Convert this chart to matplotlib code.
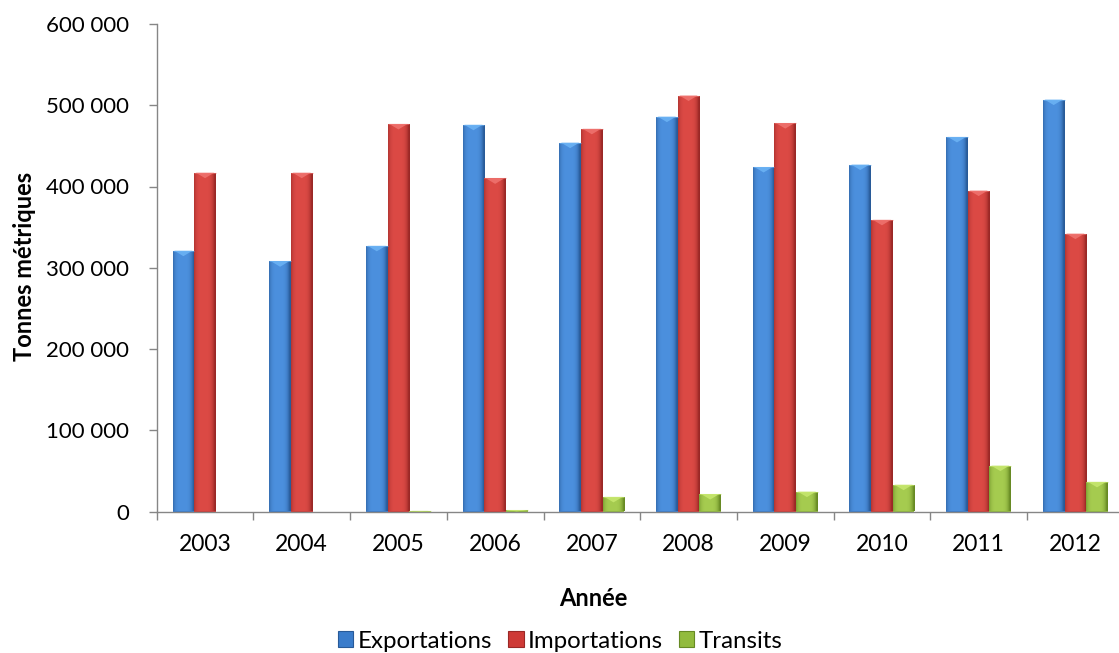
import matplotlib
matplotlib.use('Agg')
import matplotlib.pyplot as plt
import numpy as np
from matplotlib.patches import Patch, Polygon
from matplotlib.colors import to_rgb
from matplotlib.ticker import FuncFormatter, FixedLocator

years = ['2003', '2004', '2005', '2006', '2007', '2008', '2009', '2010', '2011', '2012']
exportations = [321000, 308000, 327000, 476000, 454000, 486000, 424000, 427000, 461000, 507000]
importations = [417000, 417000, 477000, 410000, 471000, 512000, 478000, 359000, 395000, 342000]
transits = [0, 0, 800, 1800, 18000, 21500, 24500, 33000, 56500, 36500]

series = ['Exportations', 'Importations', 'Transits']
mid_colors = ['#3A7CCB', '#CE3A36', '#92BB3D']
dark_colors = ['#285A98', '#9A2826', '#678A24']
light_colors = ['#4C90DE', '#DC4A45', '#A6CC50']
top_colors = ['#6DB4F5', '#F07470', '#C8E870']

plt.rcParams['font.family'] = ['Lato', 'DejaVu Sans']

W, H = 1119, 653
fig = plt.figure(figsize=(W / 100, H / 100), dpi=100)
ax = fig.add_axes([156.7 / W, (H - 511.5) / H, 967 / W, (511.5 - 24) / H])

x = np.arange(len(years))
bw = 0.224
data = [exportations, importations, transits]
offsets = [-bw, 0.0, bw]

ymax = 600000
ax.set_xlim(-0.5, len(years) - 0.5)
ax.set_ylim(0, ymax)

axis_h_px = (511.5 - 24)
dy_top = 5.5 / axis_h_px * ymax

for vals, off, mc, dc, lc, tc in zip(data, offsets, mid_colors, dark_colors, light_colors, top_colors):
    bars = ax.bar(x + off, vals, width=bw, color=mc, edgecolor='none', zorder=2)
    for p in bars:
        bx, by, w, h = p.get_x(), p.get_y(), p.get_width(), p.get_height()
        if h <= 0:
            continue
        t = np.linspace(0, 1, 80)
        prof = np.clip(1 - np.abs(2 * t - 0.9) ** 4, 0, 1)
        d = np.array(to_rgb(dc))
        l = np.array(to_rgb(lc))
        img = d[None, :] + (l - d)[None, :] * prof[:, None]
        im = ax.imshow(img[None, :, :], extent=[bx, bx + w, by, by + h], aspect='auto',
                       origin='lower', interpolation='bilinear', zorder=2.1)
        im.set_clip_path(p)
        depth = min(dy_top, h)
        tri = Polygon([[bx + w * 0.08, by + h], [bx + w * 0.92, by + h], [bx + w / 2, by + h - depth]],
                      closed=True, facecolor=tc, edgecolor='none', alpha=0.85, zorder=2.2)
        ax.add_patch(tri)
        ax.plot([bx, bx + w], [by + h, by + h], color=tc, lw=0.8, alpha=0.6, zorder=2.3,
                solid_capstyle='butt')

ax.set_xlim(-0.5, len(years) - 0.5)
ax.set_ylim(0, ymax)

for s in ['top', 'right']:
    ax.spines[s].set_visible(False)
for s in ['left', 'bottom']:
    ax.spines[s].set_color('#868686')
    ax.spines[s].set_linewidth(1.0)
    ax.spines[s].set_zorder(3)

ax.set_yticks(np.arange(0, ymax + 1, 100000))
ax.yaxis.set_major_formatter(FuncFormatter(lambda v, p: '{:,}'.format(int(v)).replace(',', ' ')))
ax.tick_params(axis='y', length=6, width=1, color='#868686', pad=14, labelsize=16, labelcolor='#000000')

ax.xaxis.set_major_locator(FixedLocator(np.arange(-0.5, len(years), 1.0)))
ax.xaxis.set_major_formatter(FuncFormatter(lambda v, p: ''))
ax.xaxis.set_minor_locator(FixedLocator(x))
ax.set_xticklabels(years, minor=True)
ax.tick_params(axis='x', which='major', length=6, width=1, color='#868686')
ax.tick_params(axis='x', which='minor', length=0, pad=16, labelsize=16.5, labelcolor='#000000')

fig.text(25 / W, (H - 266) / H, 'Tonnes métriques', rotation=90, ha='center', va='center',
         fontsize=17, fontweight='bold', color='#000000')
fig.text(593 / W, (H - 598) / H, 'Année', ha='center', va='center',
         fontsize=17, fontweight='bold', color='#000000')

handles = [Patch(facecolor=mc, edgecolor=dc, linewidth=0.8) for mc, dc in zip(mid_colors, dark_colors)]
fig.legend(handles, series, loc='center', bbox_to_anchor=(560 / W, (H - 641) / H), ncol=3,
           frameon=False, fontsize=17.3, handlelength=0.65, handleheight=0.65,
           handletextpad=0.17, columnspacing=0.67, borderaxespad=0, borderpad=0)

fig.savefig('out.png', dpi=100)
